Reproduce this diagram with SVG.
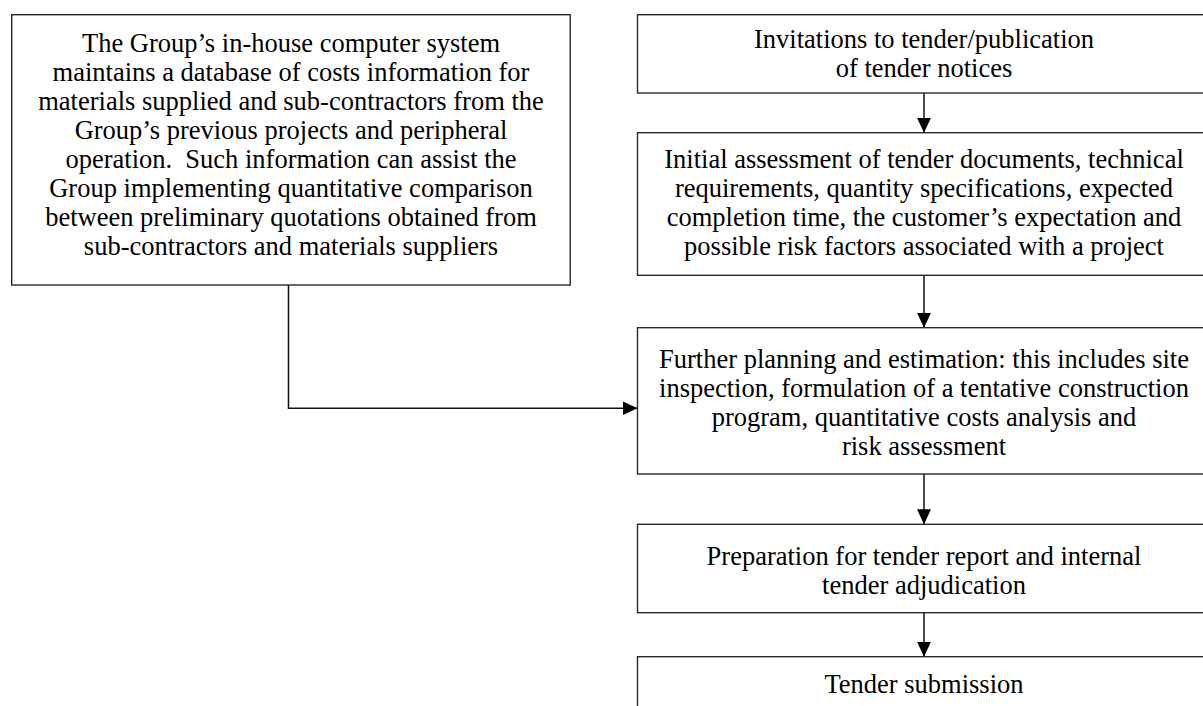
<svg xmlns="http://www.w3.org/2000/svg" width="1203" height="706" viewBox="0 0 1203 706">
<defs>
<style>
.box{fill:#fff;stroke:#2a2a2a;stroke-width:1.4}
.t{font-family:"Liberation Serif","Times New Roman",serif;font-size:26.5px;fill:#000;text-anchor:middle}
.c{fill:none;stroke:#111;stroke-width:1.5}
</style>
<marker id="ah" markerUnits="userSpaceOnUse" markerWidth="16" markerHeight="15" refX="15" refY="7" orient="auto">
<path d="M0,0 L15,7 L0,14 Z" fill="#000"/>
</marker>
</defs>
<rect width="1203" height="706" fill="#fff"/>
<g id="connectors">
<path class="c" d="M288.5,285 V408.3 H637.5" marker-end="url(#ah)"/>
<path class="c" d="M924,93 V132.7" marker-end="url(#ah)"/>
<path class="c" d="M924,275.3 V327.7" marker-end="url(#ah)"/>
<path class="c" d="M924,474 V524.3" marker-end="url(#ah)"/>
<path class="c" d="M924,612.7 V656.7" marker-end="url(#ah)"/>
</g>
<g id="n-database">
<rect class="box" x="11.7" y="14.7" width="558.5" height="270.3"/>
<text class="t" xml:space="preserve"><tspan x="291" y="51.5">The Group’s in-house computer system</tspan><tspan x="291" y="80.5">maintains a database of costs information for</tspan><tspan x="291" y="109.5">materials supplied and sub-contractors from the</tspan><tspan x="291" y="138.5">Group’s previous projects and peripheral</tspan><tspan x="291" y="167.5">operation.  Such information can assist the</tspan><tspan x="291" y="196.5">Group implementing quantitative comparison</tspan><tspan x="291" y="225.5">between preliminary quotations obtained from</tspan><tspan x="291" y="254.5">sub-contractors and materials suppliers</tspan></text>
</g>
<g id="n-invitations">
<rect class="box" x="637.5" y="14.7" width="575" height="78.3"/>
<text class="t"><tspan x="924" y="48.3">Invitations to tender/publication</tspan><tspan x="924" y="76.7">of tender notices</tspan></text>
</g>
<g id="n-initial">
<rect class="box" x="637.5" y="132.7" width="575" height="142.6"/>
<text class="t"><tspan x="924" y="168.3">Initial assessment of tender documents, technical</tspan><tspan x="924" y="196.7">requirements, quantity specifications, expected</tspan><tspan x="924" y="226">completion time, the customer’s expectation and</tspan><tspan x="924" y="255">possible risk factors associated with a project</tspan></text>
</g>
<g id="n-further">
<rect class="box" x="637.5" y="327.7" width="575" height="146.3"/>
<text class="t"><tspan x="924" y="368.3">Further planning and estimation: this includes site</tspan><tspan x="924" y="396.7">inspection, formulation of a tentative construction</tspan><tspan x="924" y="426">program, quantitative costs analysis and</tspan><tspan x="924" y="455">risk assessment</tspan></text>
</g>
<g id="n-preparation">
<rect class="box" x="637.5" y="524.3" width="575" height="88.4"/>
<text class="t"><tspan x="924" y="565">Preparation for tender report and internal</tspan><tspan x="924" y="594">tender adjudication</tspan></text>
</g>
<g id="n-submission">
<rect class="box" x="637.5" y="656.7" width="575" height="70"/>
<text class="t"><tspan x="924" y="693.3">Tender submission</tspan></text>
</g>
</svg>
